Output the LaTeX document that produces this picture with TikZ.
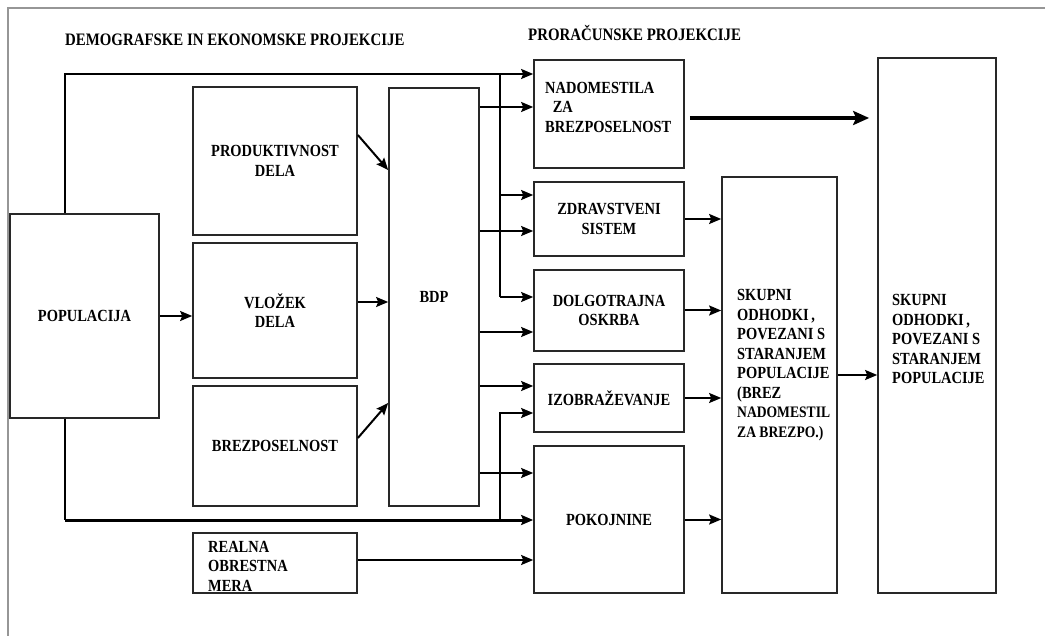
\documentclass[tikz,border=0pt]{standalone}
\usepackage{fontspec}
\setmainfont{Liberation Serif}[FakeStretch=0.85]
\usetikzlibrary{arrows.meta}
\definecolor{ln1}{RGB}{40,40,40}
\definecolor{fr1}{RGB}{150,150,150}

\begin{document}
\begin{tikzpicture}[
    x=1pt, y=-1pt,
    box/.style={
        draw=ln1, line width=1.7pt,
        inner sep=0pt, align=center,
        font=\bfseries\fontsize{17}{19.5}\selectfont
    },
    txt/.style={inner sep=0pt, align=left, anchor=west,
        font=\bfseries\fontsize{17}{19.5}\selectfont},
    hdr/.style={inner sep=0pt, anchor=west,
        font=\bfseries\fontsize{17.5}{20}\selectfont},
    f/.style={draw=black, line width=2pt, -{Stealth[length=12pt,width=10pt,inset=2pt]}},
    ln/.style={draw=black, line width=2pt},
    fb/.style={f, line width=3pt},
    fthick/.style={draw=black, line width=3.4pt, -{Stealth[length=16pt,width=14pt,inset=3pt]}}
]
\useasboundingbox (0,0) rectangle (1045,636);

\draw [fr1, line width=1.5pt] (1045,8) -- (8,8) -- (8,636);

\node [hdr] (hdem) at (65,40) {DEMOGRAFSKE IN EKONOMSKE PROJEKCIJE};
\node [hdr] (hpro) at (528,33) {PRORAČUNSKE PROJEKCIJE};

% demografija, ekonomija
\node [box, minimum width=149pt, minimum height=204pt] (pop) at (84.5,316) {POPULACIJA};
\node [box, minimum width=164pt, minimum height=148pt] (prod) at (275,161) {PRODUKTIVNOST\\DELA};
\node [box, minimum width=164pt, minimum height=135pt] (vloz) at (275,310.5) {VLOŽEK\\DELA};
\node [box, minimum width=164pt, minimum height=120pt] (brez) at (275,446) {BREZPOSELNOST};
\node [box, minimum width=164pt, minimum height=60pt] (real) at (275,563) {};
\node [txt] (realT) at (208,566) {REALNA\\OBRESTNA\\MERA};
\node [box, minimum width=90pt, minimum height=418pt] (bdp) at (434,297) {BDP};

% proracun
\node [box, minimum width=150pt, minimum height=108pt] (nad) at (609,114) {};
\node [txt] (nadT) at (545,107) {NADOMESTILA\\\hspace*{0.45em}ZA\\BREZPOSELNOST};
\node [box, minimum width=150pt, minimum height=74pt] (zdr) at (609,219) {ZDRAVSTVENI\\SISTEM};
\node [box, minimum width=150pt, minimum height=81pt] (dol) at (609,310.5) {DOLGOTRAJNA\\OSKRBA};
\node [box, minimum width=150pt, minimum height=68pt] (izo) at (609,398) {IZOBRAŽEVANJE};
\node [box, minimum width=150pt, minimum height=147pt] (pok) at (609,519.5) {POKOJNINE};

\node [box, minimum width=115pt, minimum height=416pt] (sku) at (779.5,385) {};
\node [txt] (skuT) at (737,365) {SKUPNI\\ODHODKI\,,\\POVEZANI S\\STARANJEM\\POPULACIJE\\(BREZ\\
    {\fontsize{16}{19.5}\selectfont NADOMESTIL}\\{\fontsize{16}{19.5}\selectfont ZA BREZPO.)}};
\node [box, minimum width=118pt, minimum height=535pt] (tot) at (937,325.5) {};
\node [txt] (totT) at (892,339) {SKUPNI\\ODHODKI\,,\\POVEZANI S\\STARANJEM\\POPULACIJE};

\foreach \n/\yy in {na1/74, na2/107, zd1/195, zd2/231, do1/297, do2/332,
    iz1/386, iz2/413, po1/473, po2/520, po3/560, pr1/135, pr2/170,
    vl1/302, br1/438, br2/403, sk1/375, nt1/118}
    \coordinate (\n) at (500,\yy);
\coordinate (lb) at ([xshift=-19.5pt]pop.south |- po2);

\draw [f] ([xshift=-19.5pt]pop.north) |- (nad.west |- na1);
\draw [ln] (na1) -- (do1);
\draw [f] (zd1) -- (zdr.west |- zd1);
\draw [f] (do1) -- (dol.west |- do1);
\draw [ln] ([xshift=-19.5pt]pop.south) -- (lb);
\draw [fb] (lb) -- (pok.west |- po2);
\draw [f] (po2) |- (izo.west |- iz2);

\draw [f] (pop.east) -- (vloz.west |- pop.east);
\draw [f] (prod.east |- pr1) -- (bdp.west |- pr2);
\draw [f] (vloz.east |- vl1) -- (bdp.west |- vl1);
\draw [f] (brez.east |- br1) -- (bdp.west |- br2);
\draw [f] (real.east |- po3) -- (pok.west |- po3);

\foreach \n/\t in {na2/nad, zd2/zdr, do2/dol, iz1/izo, po1/pok}
    \draw [f] (bdp.east |- \n) -- (\t.west |- \n);

\foreach \n in {zdr, dol, izo, pok}
    \draw [f] (\n.east) -- (sku.west |- \n.east);
\draw [f] (sku.east |- sk1) -- (tot.west |- sk1);
\draw [fthick, shorten <=5pt, shorten >=8pt] (nad.east |- nt1) -- (tot.west |- nt1);

\end{tikzpicture}
\end{document}
